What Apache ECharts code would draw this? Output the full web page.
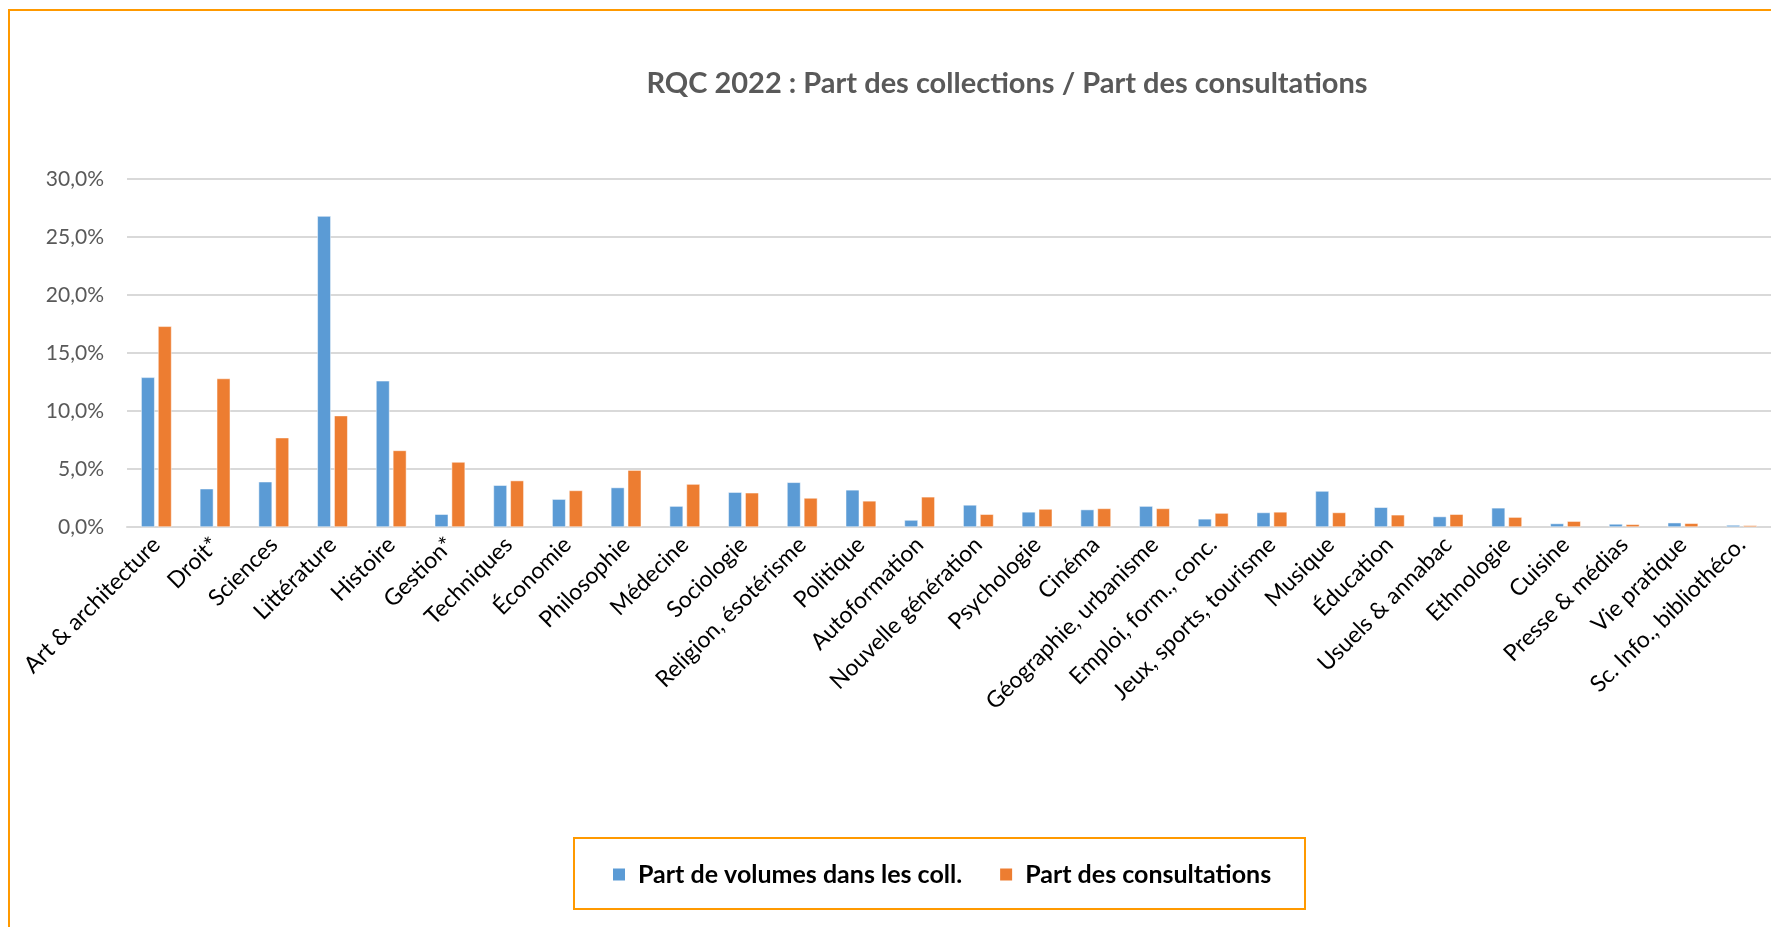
<!DOCTYPE html>
<html>
<head>
<meta charset="utf-8">
<title>RQC 2022</title>
<script src="https://cdn.jsdelivr.net/npm/echarts@6/dist/echarts.min.js"></script>
<style>
    html, body { margin: 0; padding: 0; background: #ffffff; }
    #chart { width: 1771px; height: 927px; }
</style>
</head>
<body>
<div id="chart"></div>
<script>
    // categories (axe x)
    var categories = ['Art & architecture', 'Droit*', 'Sciences', 'Littérature', 'Histoire', 'Gestion*',
        'Techniques', 'Économie', 'Philosophie', 'Médecine', 'Sociologie', 'Religion, ésotérisme',
        'Politique', 'Autoformation', 'Nouvelle génération', 'Psychologie', 'Cinéma',
        'Géographie, urbanisme', 'Emploi, form., conc.', 'Jeux, sports, tourisme', 'Musique',
        'Éducation', 'Usuels & annabac', 'Ethnologie', 'Cuisine', 'Presse & médias',
        'Vie pratique', 'Sc. Info., bibliothéco.'];

    // valeurs en %
    var partVolumes = [12.9, 3.3, 3.9, 26.8, 12.6, 1.1, 3.6, 2.4, 3.4, 1.8, 3.0, 3.85, 3.2, 0.6,
        1.9, 1.3, 1.5, 1.8, 0.7, 1.25, 3.1, 1.7, 0.9, 1.65, 0.3, 0.26, 0.37, 0.17];
    var partConsult = [17.3, 12.8, 7.7, 9.6, 6.6, 5.6, 4.0, 3.15, 4.9, 3.7, 2.95, 2.5, 2.25, 2.6,
        1.1, 1.55, 1.6, 1.6, 1.2, 1.3, 1.25, 1.05, 1.1, 0.85, 0.5, 0.23, 0.32, 0.14];

    var seriesNames = ['Part de volumes dans les coll.', 'Part des consultations'];
    var yTicks = [0, 5, 10, 15, 20, 25, 30];

    var font = 'Lato, "Open Sans", sans-serif';

    var chart = echarts.init(document.getElementById('chart'));
    var options = {
        animation: false,
        color: ['#5B9BD5', '#ED7D31'],
        title: {
            text: 'RQC 2022 : Part des collections / Part des consultations',
            left: 1002,
            top: 64,
            textAlign: 'center',
            textStyle: {
                fontFamily: font,
                fontSize: 29,
                fontWeight: 'bold',
                color: '#595959'
            }
        },
        graphic: [
            {
                // cadre orange du graphique
                type: 'rect',
                shape: { x: 9, y: 10, width: 2000, height: 1000 },
                style: { fill: 'none', stroke: '#FF9900', lineWidth: 2 },
                z: -1
            },
            {
                // cadre de la légende
                type: 'rect',
                shape: { x: 574, y: 838, width: 731, height: 71 },
                style: { fill: 'none', stroke: '#FF9900', lineWidth: 2 },
                z: -1
            }
        ],
        legend: {
            left: 606,
            top: 857,
            icon: 'rect',
            itemWidth: 14,
            itemHeight: 14,
            itemGap: 36,
            data: seriesNames,
            textStyle: {
                fontFamily: font,
                fontSize: 25,
                fontWeight: 'bold',
                color: '#000000',
                padding: [0, 0, 0, 7]
            }
        },
        grid: {
            left: 127,
            right: 0,
            top: 179,
            bottom: 400
        },
        xAxis: {
            type: 'category',
            data: categories,
            axisTick: { show: false },
            axisLine: { lineStyle: { color: '#D9D9D9', width: 2 } },
            axisLabel: {
                interval: 0,
                rotate: 45,
                margin: 14,
                fontFamily: font,
                fontSize: 23,
                color: '#000000'
            }
        },
        yAxis: {
            type: 'value',
            min: yTicks[0],
            max: yTicks[yTicks.length - 1],
            interval: 5,
            axisLine: { show: false },
            axisTick: { show: false },
            splitLine: { lineStyle: { color: '#D9D9D9', width: 2 } },
            axisLabel: {
                margin: 23,
                fontFamily: font,
                fontSize: 21,
                color: '#595959',
                formatter: function (v) {
                    return v.toFixed(1).replace('.', ',') + '%';
                }
            }
        },
        series: [
            {
                name: seriesNames[0],
                type: 'bar',
                data: partVolumes,
                barWidth: 13.5,
                barGap: '25%',
                itemStyle: { borderColor: '#ffffff', borderWidth: 0.5 }
            },
            {
                name: seriesNames[1],
                type: 'bar',
                data: partConsult,
                barWidth: 13.5,
                barGap: '25%',
                itemStyle: { borderColor: '#ffffff', borderWidth: 0.5 }
            }
        ]
    };
    chart.setOption(options);
</script>
</body>
</html>
